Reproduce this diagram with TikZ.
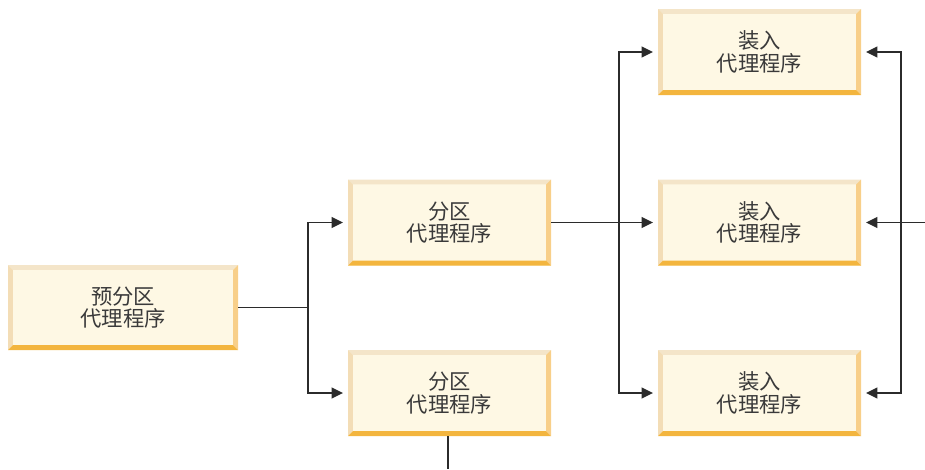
\documentclass[tikz,border=0pt]{standalone}
\usepackage{fontspec}
\newfontfamily\cjk{Noto Sans CJK SC}
\usetikzlibrary{arrows.meta}
\definecolor{boxfill}{HTML}{FEF8E4}
\definecolor{bevtop}{HTML}{F4E5C9}
\definecolor{bevleft}{HTML}{F3DDB6}
\definecolor{bevright}{HTML}{F8CF89}
\definecolor{bevbot}{HTML}{F3B53E}
\definecolor{linecol}{HTML}{2B2B2B}
\definecolor{txtcol}{HTML}{3A3A3A}
\tikzset{
  x=0.75pt, y=-0.75pt,
  agent/.style={
    rectangle, inner sep=0pt, fill=boxfill,
    minimum width=152.25pt, minimum height=64.5pt,
    align=center, text=txtcol,
    font=\cjk\fontsize{16pt}{17pt}\selectfont,
    path picture={
      \def\bv{3.6pt}
      \coordinate (nw) at (path picture bounding box.north west);
      \coordinate (ne) at (path picture bounding box.north east);
      \coordinate (sw) at (path picture bounding box.south west);
      \coordinate (se) at (path picture bounding box.south east);
      \fill[bevtop] (nw) -- (ne) -- ([xshift=-\bv,yshift=-\bv]ne) -- ([xshift=\bv,yshift=-\bv]nw) -- cycle;
      \fill[bevleft] (nw) -- ([xshift=\bv,yshift=-\bv]nw) -- ([xshift=\bv,yshift=\bv]sw) -- (sw) -- cycle;
      \fill[bevright] (ne) -- (se) -- ([xshift=-\bv,yshift=\bv]se) -- ([xshift=-\bv,yshift=-\bv]ne) -- cycle;
      \fill[bevbot] (sw) -- ([xshift=\bv,yshift=\bv]sw) -- ([xshift=-\bv,yshift=\bv]se) -- (se) -- cycle;
    }
  },
  wide/.style={minimum width=172.5pt, minimum height=63.75pt},
  conn/.style={draw=linecol, line width=1.3pt},
  arr/.style={conn, -{Triangle[length=8.5pt,width=8pt]}, shorten >=3.5pt},
}
\begin{document}
\begin{tikzpicture}
\useasboundingbox (0,0) rectangle (925,469);
\node[agent, wide] (pre) at (123,307.5) {预分区\\代理程序};
\node[agent] (p1) at (449.5,222.5) {分区\\代理程序};
\node[agent] (p2) at (449.5,393) {分区\\代理程序};
\node[agent] (l1) at (759.5,52) {装入\\代理程序};
\node[agent] (l2) at (759.5,222.5) {装入\\代理程序};
\node[agent] (l3) at (759.5,393) {装入\\代理程序};

\coordinate (j1) at (308,307.5);
\coordinate (j2) at (619,222.5);
\coordinate (j3) at (901,222.5);
\coordinate (rin) at (925,222.5);
\coordinate (bout) at (448,469);

\draw[conn] (pre.east) -- (j1);
\draw[arr] (j1) |- (p1.west);
\draw[arr] (j1) |- (p2.west);
\draw[arr] (p1.east) -- (l2.west);
\draw[arr] (j2) |- (l1.west);
\draw[arr] (j2) |- (l3.west);
\draw[arr] (rin) -- (l2.east);
\draw[arr] (j3) |- (l1.east);
\draw[arr] (j3) |- (l3.east);
\draw[conn] (p2.south -| bout) -- (bout);
\end{tikzpicture}
\end{document}
